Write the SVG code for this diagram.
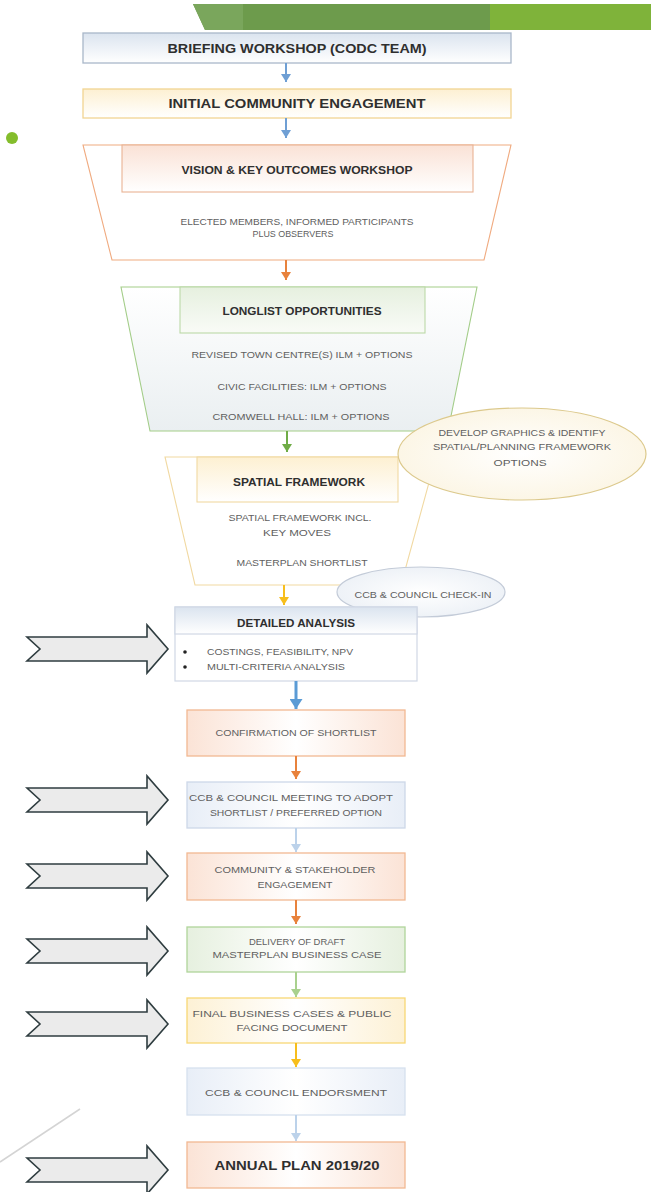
<svg xmlns="http://www.w3.org/2000/svg" width="651" height="1192" viewBox="0 0 651 1192">
<defs>
<style>
text{font-family:"Liberation Sans",Arial,sans-serif;text-anchor:middle}
.h{font-weight:bold;fill:#2f2f2f;font-size:11.5px}
.b{fill:#606060;font-size:9.5px}
.conn{stroke-width:2;fill:none}
.big{fill:#ebebeb;stroke:#2f3d40;stroke-width:1.6;stroke-linejoin:miter}
</style>
<linearGradient id="gBlue" x1="0" y1="0" x2="0" y2="1"><stop offset="0" stop-color="#dbe4ef"/><stop offset="1" stop-color="#ffffff"/></linearGradient>
<linearGradient id="gYel" x1="0" y1="0" x2="0" y2="1"><stop offset="0" stop-color="#fdf0d2"/><stop offset="1" stop-color="#ffffff"/></linearGradient>
<linearGradient id="gPeach" x1="0" y1="0" x2="0" y2="1"><stop offset="0" stop-color="#fae2d6"/><stop offset="1" stop-color="#ffffff"/></linearGradient>
<linearGradient id="gGreen" x1="0" y1="0" x2="0" y2="1"><stop offset="0" stop-color="#e6f0df"/><stop offset="1" stop-color="#f9fbf7"/></linearGradient>
<linearGradient id="gTrap2" x1="0" y1="0" x2="0" y2="1"><stop offset="0" stop-color="#ffffff"/><stop offset="1" stop-color="#eaeff1"/></linearGradient>
<linearGradient id="gPeachL" x1="0" y1="0" x2="1" y2="0"><stop offset="0" stop-color="#fbe3d6"/><stop offset="0.5" stop-color="#ffffff"/><stop offset="1" stop-color="#fbe3d6"/></linearGradient>
<linearGradient id="gBlueL" x1="0" y1="0" x2="1" y2="0"><stop offset="0" stop-color="#e8eef7"/><stop offset="0.5" stop-color="#ffffff"/><stop offset="1" stop-color="#e8eef7"/></linearGradient>
<linearGradient id="gGreenL" x1="0" y1="0" x2="1" y2="0"><stop offset="0" stop-color="#e6f0df"/><stop offset="0.5" stop-color="#ffffff"/><stop offset="1" stop-color="#e6f0df"/></linearGradient>
<linearGradient id="gYelL" x1="0" y1="0" x2="1" y2="0"><stop offset="0" stop-color="#fdf1d5"/><stop offset="0.5" stop-color="#ffffff"/><stop offset="1" stop-color="#fdf1d5"/></linearGradient>
<radialGradient id="gEll1"><stop offset="0" stop-color="#ffffff"/><stop offset="1" stop-color="#fcf6e6"/></radialGradient>
<radialGradient id="gEll2"><stop offset="0" stop-color="#ffffff"/><stop offset="1" stop-color="#eef2f7"/></radialGradient>
<marker id="mBlue" markerUnits="userSpaceOnUse" markerWidth="8" markerHeight="10" refX="8" refY="5" orient="auto"><path d="M0,0 L8,5 L0,10 Z" fill="#6f9fd4"/></marker>
<marker id="mBlueBig" markerUnits="userSpaceOnUse" markerWidth="10" markerHeight="13" refX="10" refY="6.5" orient="auto"><path d="M0,0 L10,6.5 L0,13 Z" fill="#5b9bd5"/></marker>
<marker id="mOrange" markerUnits="userSpaceOnUse" markerWidth="8" markerHeight="10" refX="8" refY="5" orient="auto"><path d="M0,0 L8,5 L0,10 Z" fill="#e8823c"/></marker>
<marker id="mGreen" markerUnits="userSpaceOnUse" markerWidth="8" markerHeight="10" refX="8" refY="5" orient="auto"><path d="M0,0 L8,5 L0,10 Z" fill="#6fac46"/></marker>
<marker id="mGreenL" markerUnits="userSpaceOnUse" markerWidth="8" markerHeight="10" refX="8" refY="5" orient="auto"><path d="M0,0 L8,5 L0,10 Z" fill="#a9d18e"/></marker>
<marker id="mYellow" markerUnits="userSpaceOnUse" markerWidth="8" markerHeight="10" refX="8" refY="5" orient="auto"><path d="M0,0 L8,5 L0,10 Z" fill="#f7be1c"/></marker>
<marker id="mBlueL" markerUnits="userSpaceOnUse" markerWidth="8" markerHeight="10" refX="8" refY="5" orient="auto"><path d="M0,0 L8,5 L0,10 Z" fill="#bcd2ea"/></marker>
<path id="bigArrow" class="big" d="M27,-12 L147,-12 L147,-24 L168,0 L147,24 L147,12 L27,12 L40,0 Z"/>
</defs>
<rect width="651" height="1192" fill="#ffffff"/>

<g id="banner">
<polygon points="193,4 651,4 651,30 205,30" fill="#6d9b4c"/>
<polygon points="193,4 243,4 243,30 205,30" fill="#7aa65c"/>
<rect x="490" y="4" width="161" height="26" fill="#7fb33a"/>
</g>
<circle id="bullet-dot" cx="12" cy="138" r="6" fill="#84bd2c"/>
<line id="deco-line" x1="80" y1="1109" x2="0" y2="1162" stroke="#d4d4d4" stroke-width="1.5"/>

<g id="n-briefing">
<rect x="83" y="33" width="428" height="30" fill="url(#gBlue)" stroke="#a9b7c9" stroke-width="1.3"/>
<text class="h" x="297" y="53" textLength="259" lengthAdjust="spacingAndGlyphs" style="font-size:12.5px">BRIEFING WORKSHOP (CODC TEAM)</text>
</g>
<g id="n-initial">
<rect x="83" y="89" width="428" height="29" fill="url(#gYel)" stroke="#f2d492" stroke-width="1.3"/>
<text class="h" x="297" y="108" textLength="257" lengthAdjust="spacingAndGlyphs" style="font-size:12.5px">INITIAL COMMUNITY ENGAGEMENT</text>
</g>

<g id="n-vision">
<polygon points="83,145 511,145 484,260 112,260" fill="#ffffff" stroke="#f0ab80" stroke-width="1.1"/>
<rect x="122" y="145" width="351" height="47" fill="url(#gPeach)" stroke="#e9b394" stroke-width="1.1"/>
<text class="h" x="297" y="174" textLength="231" lengthAdjust="spacingAndGlyphs">VISION &amp; KEY OUTCOMES WORKSHOP</text>
<text class="b" x="297" y="225" textLength="233" lengthAdjust="spacingAndGlyphs">ELECTED MEMBERS, INFORMED PARTICIPANTS</text>
<text class="b" x="293" y="237" textLength="81" lengthAdjust="spacingAndGlyphs">PLUS OBSERVERS</text>
</g>

<g id="n-longlist">
<polygon points="121,287 477,287 448,431 150,431" fill="url(#gTrap2)" stroke="#a3cd88" stroke-width="1.1"/>
<rect x="180" y="287" width="245" height="46" fill="url(#gGreen)" stroke="#bcd9a8" stroke-width="1.1"/>
<text class="h" x="302" y="315" textLength="159" lengthAdjust="spacingAndGlyphs">LONGLIST OPPORTUNITIES</text>
<text class="b" x="302" y="358" textLength="221" lengthAdjust="spacingAndGlyphs">REVISED TOWN CENTRE(S) ILM + OPTIONS</text>
<text class="b" x="302" y="390" textLength="169" lengthAdjust="spacingAndGlyphs">CIVIC FACILITIES: ILM + OPTIONS</text>
<text class="b" x="301" y="420" textLength="177" lengthAdjust="spacingAndGlyphs">CROMWELL HALL: ILM + OPTIONS</text>
</g>

<g id="n-spatial">
<polygon points="165,457 436,457 401,585 195,585" fill="#ffffff" stroke="#f1d9a2" stroke-width="1.1"/>
<rect x="197" y="457" width="201" height="45" fill="url(#gYel)" stroke="#f1d9a2" stroke-width="1.1"/>
<text class="h" x="299" y="486" textLength="132" lengthAdjust="spacingAndGlyphs">SPATIAL FRAMEWORK</text>
<text class="b" x="300" y="521" textLength="143" lengthAdjust="spacingAndGlyphs">SPATIAL FRAMEWORK INCL.</text>
<text class="b" x="297" y="536" textLength="68" lengthAdjust="spacingAndGlyphs">KEY MOVES</text>
<text class="b" x="302" y="566" textLength="131" lengthAdjust="spacingAndGlyphs">MASTERPLAN SHORTLIST</text>
</g>

<g id="n-develop-graphics">
<ellipse cx="522" cy="454" rx="124" ry="46" fill="url(#gEll1)" stroke="#dcc98c" stroke-width="1.2"/>
<text class="b" x="522" y="436" textLength="167" lengthAdjust="spacingAndGlyphs">DEVELOP GRAPHICS &amp; IDENTIFY</text>
<text class="b" x="522" y="450" textLength="178" lengthAdjust="spacingAndGlyphs">SPATIAL/PLANNING FRAMEWORK</text>
<text class="b" x="520" y="466" textLength="53" lengthAdjust="spacingAndGlyphs">OPTIONS</text>
</g>

<g id="n-checkin">
<ellipse cx="421" cy="592" rx="84" ry="25" fill="url(#gEll2)" stroke="#c3cbd8" stroke-width="1.2"/>
<text class="b" x="423" y="598" textLength="137" lengthAdjust="spacingAndGlyphs">CCB &amp; COUNCIL CHECK-IN</text>
</g>

<g id="n-detailed">
<rect x="175" y="607" width="242" height="74" fill="#ffffff" stroke="#d0d8e5" stroke-width="1.2"/>
<rect x="175" y="607" width="242" height="27" fill="url(#gBlue)" stroke="#d0d8e5" stroke-width="1.2"/>
<text class="h" x="296" y="627" textLength="118" lengthAdjust="spacingAndGlyphs">DETAILED ANALYSIS</text>
<circle cx="185" cy="652" r="1.8" fill="#222"/>
<circle cx="185" cy="667" r="1.8" fill="#222"/>
<text class="b" x="207" y="655" style="text-anchor:start" textLength="146" lengthAdjust="spacingAndGlyphs">COSTINGS, FEASIBILITY, NPV</text>
<text class="b" x="207" y="670" style="text-anchor:start" textLength="138" lengthAdjust="spacingAndGlyphs">MULTI-CRITERIA ANALYSIS</text>
</g>

<g id="n-confirmation">
<rect x="187" y="710" width="218" height="46" fill="url(#gPeachL)" stroke="#f2b892" stroke-width="1.3"/>
<text class="b" x="296" y="736" textLength="161" lengthAdjust="spacingAndGlyphs">CONFIRMATION OF SHORTLIST</text>
</g>
<g id="n-ccb-meeting">
<rect x="187" y="782" width="218" height="46" fill="url(#gBlueL)" stroke="#cdd8e8" stroke-width="1.3"/>
<text class="b" x="291" y="801" textLength="204" lengthAdjust="spacingAndGlyphs">CCB &amp; COUNCIL MEETING TO ADOPT</text>
<text class="b" x="296" y="816" textLength="172" lengthAdjust="spacingAndGlyphs">SHORTLIST / PREFERRED OPTION</text>
</g>
<g id="n-community">
<rect x="187" y="853" width="218" height="47" fill="url(#gPeachL)" stroke="#f2b892" stroke-width="1.3"/>
<text class="b" x="295" y="873" textLength="161" lengthAdjust="spacingAndGlyphs">COMMUNITY &amp; STAKEHOLDER</text>
<text class="b" x="295" y="888" textLength="75" lengthAdjust="spacingAndGlyphs">ENGAGEMENT</text>
</g>
<g id="n-delivery">
<rect x="187" y="927" width="218" height="45" fill="url(#gGreenL)" stroke="#b0d59a" stroke-width="1.3"/>
<text class="b" x="297" y="945" textLength="96" lengthAdjust="spacingAndGlyphs">DELIVERY OF DRAFT</text>
<text class="b" x="297" y="958" textLength="169" lengthAdjust="spacingAndGlyphs">MASTERPLAN BUSINESS CASE</text>
</g>
<g id="n-final">
<rect x="187" y="998" width="218" height="45" fill="url(#gYelL)" stroke="#f8d775" stroke-width="1.3"/>
<text class="b" x="292" y="1017" textLength="199" lengthAdjust="spacingAndGlyphs">FINAL BUSINESS CASES &amp; PUBLIC</text>
<text class="b" x="292" y="1031" textLength="111" lengthAdjust="spacingAndGlyphs">FACING DOCUMENT</text>
</g>
<g id="n-endorsment">
<rect x="187" y="1068" width="218" height="47" fill="url(#gBlueL)" stroke="#d6e0ee" stroke-width="1.3"/>
<text class="b" x="296" y="1096" textLength="182" lengthAdjust="spacingAndGlyphs">CCB &amp; COUNCIL ENDORSMENT</text>
</g>
<g id="n-annual">
<rect x="187" y="1142" width="218" height="46" fill="url(#gPeachL)" stroke="#f2b892" stroke-width="1.3"/>
<text class="h" x="297" y="1170" textLength="165" lengthAdjust="spacingAndGlyphs" style="font-size:13.5px">ANNUAL PLAN 2019/20</text>
</g>

<g id="side-arrows">
<use href="#bigArrow" y="649"/>
<use href="#bigArrow" y="800"/>
<use href="#bigArrow" y="876"/>
<use href="#bigArrow" y="951"/>
<use href="#bigArrow" y="1024"/>
<use href="#bigArrow" y="1170"/>
</g>

<g id="connectors" class="conn">
<line x1="286" y1="63" x2="286" y2="82" stroke="#6f9fd4" marker-end="url(#mBlue)"/>
<line x1="286" y1="118" x2="286" y2="138" stroke="#6f9fd4" marker-end="url(#mBlue)"/>
<line x1="286" y1="260" x2="286" y2="280" stroke="#e8823c" marker-end="url(#mOrange)"/>
<line x1="287" y1="431" x2="287" y2="452" stroke="#6fac46" marker-end="url(#mGreen)"/>
<line x1="284" y1="585" x2="284" y2="605" stroke="#f7be1c" marker-end="url(#mYellow)"/>
<line x1="296" y1="681" x2="296" y2="709" stroke="#5b9bd5" stroke-width="3" marker-end="url(#mBlueBig)"/>
<line x1="296" y1="756" x2="296" y2="779" stroke="#e8823c" marker-end="url(#mOrange)"/>
<line x1="296" y1="828" x2="296" y2="852" stroke="#bcd2ea" marker-end="url(#mBlueL)"/>
<line x1="296" y1="900" x2="296" y2="924" stroke="#e8823c" marker-end="url(#mOrange)"/>
<line x1="296" y1="972" x2="296" y2="997" stroke="#a9d18e" marker-end="url(#mGreenL)"/>
<line x1="296" y1="1043" x2="296" y2="1067" stroke="#f7be1c" marker-end="url(#mYellow)"/>
<line x1="296" y1="1115" x2="296" y2="1141" stroke="#bcd2ea" marker-end="url(#mBlueL)"/>
</g>
</svg>
